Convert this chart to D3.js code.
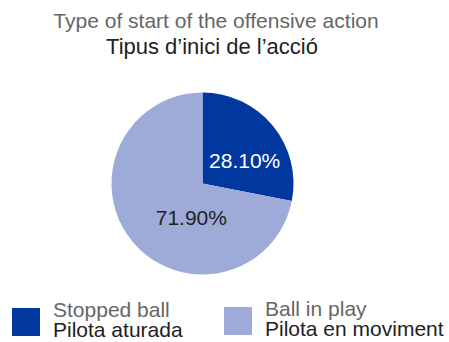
<!DOCTYPE html>
<html>
<head>
<meta charset="utf-8">
<script src="https://cdn.jsdelivr.net/npm/d3@7"></script>
<style>
  html, body { margin: 0; padding: 0; background: #fff; }
  svg { display: block; font-family: "Liberation Sans", Arial, Helvetica, sans-serif; }
</style>
</head>
<body>
<svg id="chart" width="449" height="342"></svg>
<script>
// Shares of offensive actions by how they started
const categoriesEn = ["Stopped ball", "Ball in play"];
const categoriesCa = ["Pilota aturada", "Pilota en moviment"];
const values = [28.10, 71.90];
const colors = ["#0038a0", "#9eaad8"];
const labelColors = ["#ffffff", "#222222"];
const titleLines = ["Type of start of the offensive action", "Tipus d\u2019inici de l\u2019acci\u00f3"];

const svg = d3.select("#chart");
const cx = 202.5, cy = 183.5, radius = 91;

// Title (English in grey, Catalan in dark)
svg.append("text")
  .attr("x", 216).attr("y", 28)
  .attr("text-anchor", "middle")
  .attr("font-size", 21).attr("fill", "#666")
  .text(titleLines[0]);
svg.append("text")
  .attr("x", 212).attr("y", 54)
  .attr("text-anchor", "middle")
  .attr("font-size", 22).attr("fill", "#222")
  .text(titleLines[1]);

// Pie starting at 12 o'clock, going clockwise
const pie = d3.pie().sort(null).value(d => d);
const arcs = pie(values);
const arc = d3.arc().innerRadius(0).outerRadius(radius);
const labelArc = d3.arc().innerRadius(0).outerRadius(radius);

const g = svg.append("g").attr("transform", `translate(${cx},${cy})`);
g.selectAll("path")
  .data(arcs)
  .join("path")
  .attr("d", arc)
  .attr("fill", (d, i) => colors[i]);

// Percentage labels placed from slice centroids, nudged inward
const labelNudge = [[7, 6], [24, 5]];
g.selectAll("text.pct")
  .data(arcs)
  .join("text")
  .attr("class", "pct")
  .attr("x", (d, i) => labelArc.centroid(d)[0] + labelNudge[i][0])
  .attr("y", (d, i) => labelArc.centroid(d)[1] + labelNudge[i][1])
  .attr("dy", "0.35em")
  .attr("text-anchor", "middle")
  .attr("font-size", 21)
  .attr("fill", (d, i) => labelColors[i])
  .text(d => d.data.toFixed(2) + "%");

// Legend
const legendX = [12, 224];
const legendY = [308, 307];
const legend = svg.selectAll("g.legend")
  .data(categoriesEn)
  .join("g")
  .attr("class", "legend")
  .attr("transform", (d, i) => `translate(${legendX[i]},${legendY[i]})`);
legend.append("rect")
  .attr("width", 28).attr("height", 28)
  .attr("fill", (d, i) => colors[i]);
legend.append("text")
  .attr("x", 41).attr("y", 9)
  .attr("font-size", 21).attr("fill", "#666")
  .text(d => d);
legend.append("text")
  .attr("x", 41).attr("y", 29)
  .attr("font-size", 21).attr("fill", "#222")
  .text((d, i) => categoriesCa[i]);
</script>
</body>
</html>
